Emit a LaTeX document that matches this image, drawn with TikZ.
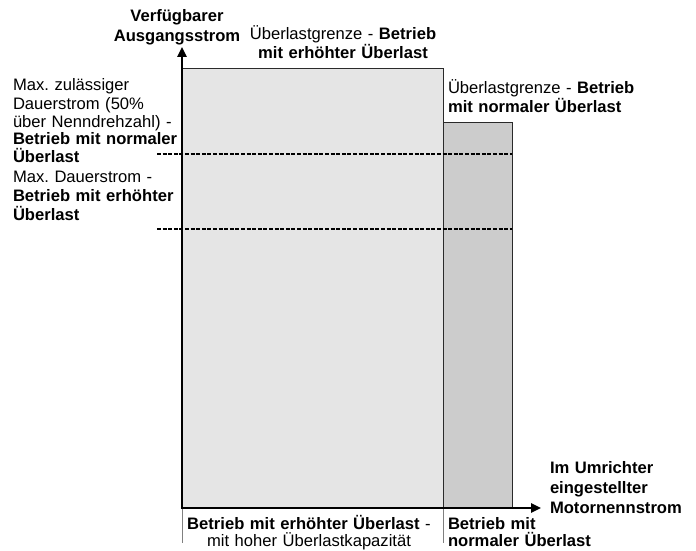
\documentclass[tikz,border=0pt]{standalone}
\usepackage{fontspec}
\setmainfont{Liberation Sans}
\usetikzlibrary{arrows.meta}
\definecolor{lightfill}{HTML}{E5E5E5}
\definecolor{darkfill}{HTML}{CCCCCC}
\definecolor{edgegrey}{HTML}{2A2A2A}
\definecolor{tickgrey}{HTML}{808080}
\frenchspacing
\begin{document}
\begin{tikzpicture}[x=1pt,y=-1pt,
  lbl/.style={inner sep=0pt, outer sep=0pt, font=\fontsize{16.6}{19}\selectfont},
  lblL/.style={lbl, anchor=base west, align=left},
  lblC/.style={lbl, anchor=base, align=center},
  area/.style={draw=edgegrey, line width=0.9pt},
  axis/.style={line width=2.4pt, -{Triangle[length=10pt,width=9pt]}},
  limitline/.style={line width=1.3pt, dash pattern=on 4pt off 1.6pt},
  sep/.style={draw=tickgrey, line width=0.9pt}]
\useasboundingbox (0,0) rectangle (696,551);
\fill[white] (0,0) rectangle (696,551);

% areas
\filldraw[area, fill=lightfill] (182,68) rectangle (443,508);
\filldraw[area, fill=darkfill] (443,122) rectangle (512,508);

% limit lines
\coordinate (l1a) at (157,154); \coordinate (l1b) at (512,154);
\coordinate (l2a) at (157,229); \coordinate (l2b) at (512,229);
\draw[limitline] (l1a) -- (l1b);
\draw[limitline] (l2a) -- (l2b);

% separators below axis
\coordinate (s1a) at (182,508); \coordinate (s1b) at (182,543);
\coordinate (s2a) at (443,508); \coordinate (s2b) at (443,543);
\draw[sep] (s1a) -- (s1b);
\draw[sep] (s2a) -- (s2b);

% axes
\coordinate (O) at (182,508);
\coordinate (ytip) at (182,47);
\coordinate (xtip) at (541,508);
\draw[axis] (O) -- (ytip);
\draw[axis] ([xshift=-1.2pt]O) -- (xtip);

% labels
\node[lblC, text width=150pt, font=\fontsize{16.6}{19.5}\selectfont\bfseries] (ylab) at (177,22)
  {Verfügbarer\\Ausgangsstrom};
\node[lblC, text width=210pt] (toplim) at (343,40)
  {Überlastgrenze - \textbf{Betrieb}\\\textbf{mit erhöhter Überlast}};
\node[lblL, text width=220pt] (rightlim) at (448,93)
  {Überlastgrenze - \textbf{Betrieb}\\\textbf{mit normaler Überlast}};
\node[lblL, text width=175pt, font=\fontsize{16.6}{18}\selectfont] (maxcont) at (13,91)
  {Max. zulässiger\\Dauerstrom (50\%\\über Nenndrehzahl) -\\\textbf{Betrieb mit normaler}\\\textbf{Überlast}};
\node[lblL, text width=175pt] (maxdauer) at (13,182)
  {Max. Dauerstrom -\\\textbf{Betrieb mit erhöhter}\\\textbf{Überlast}};
\node[lblL, text width=150pt, font=\fontsize{16.6}{20}\selectfont\bfseries] (xlab) at (550,473)
  {Im Umrichter\\eingestellter\\Motornennstrom};
\node[lblC, text width=260pt, font=\fontsize{16.6}{17.5}\selectfont] (hdlab) at (309,529)
  {\textbf{Betrieb mit erhöhter Überlast} -\\mit hoher Überlastkapazität};
\node[lblL, text width=160pt, font=\fontsize{16.6}{17.5}\selectfont\bfseries] (ndlab) at (448,529)
  {Betrieb mit\\normaler Überlast};
\end{tikzpicture}
\end{document}
